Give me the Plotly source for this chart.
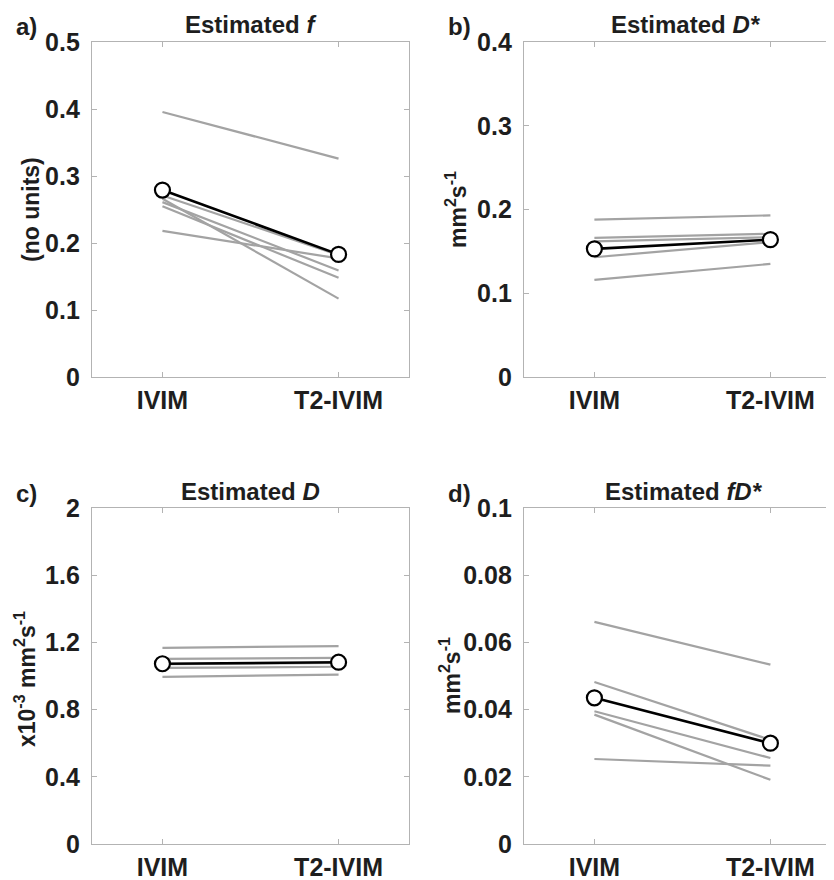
import plotly.graph_objects as go

# target canvas (browser viewport) and page offset of the figure (body margin)
W, H = 834, 880
OFF = 8
FW, FH = W - OFF, H - OFF

methods = ["IVIM", "T2-IVIM"]

# Panel a) Estimated f (no units): per-subject IVIM / T2-IVIM values
f_ivim = [0.3955, 0.271, 0.266, 0.261, 0.255, 0.218]
f_t2 = [0.326, 0.182, 0.117, 0.159, 0.148, 0.177]
f_mean = [0.279, 0.183]

# Panel b) Estimated D* (mm^2 s^-1)
dstar_ivim = [0.188, 0.166, 0.162, 0.143, 0.116]
dstar_t2 = [0.193, 0.171, 0.167, 0.161, 0.135]
dstar_mean = [0.153, 0.164]

# Panel c) Estimated D (x10^-3 mm^2 s^-1)
d_ivim = [1.168, 1.102, 1.070, 1.048, 0.995]
d_t2 = [1.178, 1.108, 1.078, 1.055, 1.008]
d_mean = [1.073, 1.082]

# Panel d) Estimated fD* (mm^2 s^-1)
fd_ivim = [0.0661, 0.0482, 0.0395, 0.0385, 0.0253]
fd_t2 = [0.0534, 0.0310, 0.0256, 0.0191, 0.0233]
fd_mean = [0.0435, 0.0300]

# tick definitions
a_ticks = [0, 0.1, 0.2, 0.3, 0.4, 0.5]
a_labels = ["0", "0.1", "0.2", "0.3", "0.4", "0.5"]
b_ticks = [0, 0.1, 0.2, 0.3, 0.4]
b_labels = ["0", "0.1", "0.2", "0.3", "0.4"]
c_ticks = [0, 0.4, 0.8, 1.2, 1.6, 2.0]
c_labels = ["0", "0.4", "0.8", "1.2", "1.6", "2"]
d_ticks = [0, 0.02, 0.04, 0.06, 0.08, 0.1]
d_labels = ["0", "0.02", "0.04", "0.06", "0.08", "0.1"]

GREY = "#a3a3a3"
AXC = "#b3b3b3"
TXT = "#1e1e1e"
FONT = "Liberation Sans, Arial, sans-serif"

fig = go.Figure()

def px_x(x):
    return min(1.0, max(0.0, (x - OFF) / FW))

def px_y(y):
    return min(1.0, max(0.0, 1 - (y - OFF) / FH))

panels = [
    dict(iv=f_ivim, t2=f_t2, mean=f_mean, ticks=a_ticks, labels=a_labels, ymax=0.5,
         xd=(92, 409), yd=(42, 377), xr=2.4, rmirror=True),
    dict(iv=dstar_ivim, t2=dstar_t2, mean=dstar_mean, ticks=b_ticks, labels=b_labels, ymax=0.4,
         xd=(524, 834), yd=(42, 377), xr=0.6 + 310 / 176, rmirror=False),
    dict(iv=d_ivim, t2=d_t2, mean=d_mean, ticks=c_ticks, labels=c_labels, ymax=2.0,
         xd=(92, 409), yd=(508, 844), xr=2.4, rmirror=True),
    dict(iv=fd_ivim, t2=fd_t2, mean=fd_mean, ticks=d_ticks, labels=d_labels, ymax=0.1,
         xd=(524, 834), yd=(508, 844), xr=0.6 + 310 / 176, rmirror=False),
]

layout_axes = {}
for i, p in enumerate(panels):
    n = i + 1
    xa = "x" if n == 1 else f"x{n}"
    ya = "y" if n == 1 else f"y{n}"
    for a, b in zip(p["iv"], p["t2"]):
        fig.add_trace(go.Scatter(x=[1, 2], y=[a, b], mode="lines",
                                 line=dict(color=GREY, width=2.2),
                                 xaxis=xa, yaxis=ya, showlegend=False, hoverinfo="skip"))
    fig.add_trace(go.Scatter(x=[1, 2], y=p["mean"], mode="lines+markers",
                             line=dict(color="black", width=2.6),
                             marker=dict(size=15, color="white",
                                         line=dict(color="black", width=2.2)),
                             xaxis=xa, yaxis=ya, showlegend=False, hoverinfo="skip"))
    xkey = "xaxis" if n == 1 else f"xaxis{n}"
    ykey = "yaxis" if n == 1 else f"yaxis{n}"
    layout_axes[xkey] = dict(
        domain=[px_x(p["xd"][0]), px_x(p["xd"][1])],
        range=[0.6, p["xr"]], anchor=ya, automargin=False,
        tickmode="array", tickvals=[1, 2], ticktext=methods,
        ticks="inside", ticklen=5, tickcolor=AXC, tickwidth=1,
        showline=True, linecolor=AXC, linewidth=1.3, mirror="ticks",
        showgrid=False, zeroline=False, fixedrange=True,
        tickfont=dict(family=FONT, size=25, color=TXT, weight="bold"),
        ticklabelstandoff=1,
    )
    layout_axes[ykey] = dict(
        domain=[px_y(p["yd"][1]), px_y(p["yd"][0])],
        range=[0, p["ymax"]], anchor=xa, automargin=False,
        tickmode="array", tickvals=p["ticks"], ticktext=p["labels"],
        ticks="inside", ticklen=5, tickcolor=AXC, tickwidth=1,
        showline=True, linecolor=AXC, linewidth=1.3,
        mirror="ticks" if p["rmirror"] else False,
        showgrid=False, zeroline=False, fixedrange=True,
        tickfont=dict(family=FONT, size=25, color=TXT, weight="bold"),
        ticklabelstandoff=6,
    )

annotations = []
def ann(text, x, y, size, angle=0, xanchor="center", yanchor="middle"):
    annotations.append(dict(text=text, x=px_x(x), y=px_y(y), xref="paper", yref="paper",
                            showarrow=False, textangle=angle, xanchor=xanchor, yanchor=yanchor,
                            font=dict(family=FONT, size=size, color=TXT, weight="bold")))

# panel letters
ann("a)", 26, 26, 24)
ann("b)", 459, 26, 24)
ann("c)", 26, 493, 24)
ann("d)", 459, 493, 24)
# titles
ann("Estimated <i>f</i>", 250, 24, 24)
ann("Estimated <i>D*</i>", 686, 24, 24)
ann("Estimated <i>D</i>", 250, 491, 24)
ann("Estimated <i>fD*</i>", 684, 491, 24)
# y-axis titles
ann("(no units)", 31, 210, 23, angle=-90)
ann("mm<sup>2</sup>s<sup>-1</sup>", 456, 210, 23, angle=-90)
ann("x10<sup>-3</sup> mm<sup>2</sup>s<sup>-1</sup>", 25, 679, 23, angle=-90)
ann("mm<sup>2</sup>s<sup>-1</sup>", 450, 676, 23, angle=-90)

fig.update_layout(
    width=FW, height=FH,
    margin=dict(l=0, r=0, t=0, b=0, autoexpand=False),
    paper_bgcolor="white", plot_bgcolor="white",
    annotations=annotations,
    **layout_axes,
)

fig.write_html("out.html")
